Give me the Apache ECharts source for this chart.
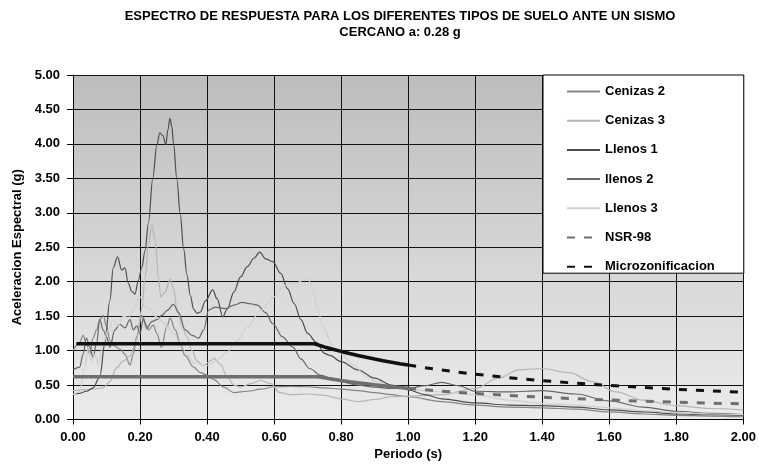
<!DOCTYPE html>
<html>
<head>
<meta charset="utf-8">
<script src="https://cdn.jsdelivr.net/npm/echarts@6/dist/echarts.min.js"></script>
<style>
html,body{margin:0;padding:0;background:#fff;}
#chart{width:759px;height:467px;}
</style>
</head>
<body>
<div id="chart"></div>
<script>
// ---- Text ----
const titleLines = ['ESPECTRO DE RESPUESTA PARA LOS DIFERENTES TIPOS DE SUELO ANTE UN SISMO', 'CERCANO a: 0.28 g'];
const xAxisTitle = 'Periodo (s)';
const yAxisTitle = 'Aceleracion Espectral (g)';
const legendNames = ['Cenizas 2', 'Cenizas 3', 'Llenos 1', 'llenos 2', 'Llenos 3', 'NSR-98', 'Microzonificacion'];

// ---- Axis ranges / ticks ----
const xMin = 0, xMax = 2, xStep = 0.2;
const yMin = 0, yMax = 5, yStep = 0.5;

// ---- Series data: [period (s), acceleration (g)] ----
const cenizas2 = [
  [0.00,1.00],[0.02,1.12],[0.03,1.22],[0.04,1.10],[0.05,0.95],[0.06,1.18],[0.07,1.30],[0.08,1.45],[0.09,1.51],
  [0.10,1.35],[0.11,1.15],[0.12,1.08],[0.14,1.02],[0.155,0.95],[0.17,0.79],[0.18,0.95],[0.19,1.20],[0.205,1.51],
  [0.215,1.40],[0.225,1.30],[0.24,1.37],[0.25,1.25],[0.264,1.05],[0.28,1.35],[0.29,1.47],[0.305,1.30],[0.32,1.10],
  [0.334,0.93],[0.36,0.76],[0.38,0.68],[0.40,0.645],[0.42,0.58],[0.45,0.47],[0.48,0.39],[0.52,0.41],[0.56,0.44],
  [0.60,0.475],[0.65,0.48],[0.70,0.475],[0.75,0.46],[0.80,0.44],[0.85,0.42],[0.90,0.39],[0.95,0.36],[1.00,0.33],
  [1.10,0.26],[1.20,0.21],[1.30,0.18],[1.40,0.17],[1.50,0.15],[1.60,0.11],[1.70,0.08],[1.80,0.06],[1.90,0.05],[2.00,0.04]
];
const cenizas3 = [
  [0.00,0.42],[0.03,0.43],[0.06,0.44],[0.09,0.46],[0.11,0.55],[0.13,0.75],[0.15,0.85],[0.17,0.92],[0.19,1.15],
  [0.205,1.60],[0.215,2.05],[0.225,2.55],[0.235,2.83],[0.245,2.60],[0.255,2.05],[0.262,1.78],[0.275,1.85],[0.29,2.04],
  [0.30,1.90],[0.31,1.62],[0.325,1.35],[0.34,1.20],[0.355,1.00],[0.37,0.85],[0.39,0.78],[0.41,0.85],[0.42,0.89],
  [0.44,0.80],[0.46,0.62],[0.48,0.50],[0.50,0.47],[0.53,0.52],[0.56,0.57],[0.59,0.52],[0.617,0.39],[0.65,0.36],
  [0.70,0.37],[0.75,0.35],[0.80,0.30],[0.85,0.26],[0.90,0.29],[0.95,0.33],[1.00,0.34],[1.10,0.36],[1.20,0.45],
  [1.27,0.60],[1.33,0.72],[1.40,0.74],[1.48,0.68],[1.55,0.55],[1.62,0.40],[1.70,0.28],[1.80,0.20],[1.90,0.16],[2.00,0.14]
];
const llenos1 = [
  [0.00,0.37],[0.02,0.38],[0.04,0.41],[0.06,0.46],[0.08,0.62],[0.095,1.10],[0.11,1.73],[0.12,2.20],[0.133,2.36],
  [0.145,2.17],[0.155,2.20],[0.165,1.98],[0.175,1.86],[0.185,1.82],[0.195,2.02],[0.205,2.20],[0.215,2.45],[0.225,2.85],
  [0.238,3.50],[0.25,3.98],[0.259,4.16],[0.268,4.12],[0.277,3.99],[0.283,4.20],[0.289,4.37],[0.295,4.25],[0.30,4.00],
  [0.31,3.48],[0.32,2.98],[0.33,2.48],[0.34,2.10],[0.35,1.80],[0.36,1.60],[0.37,1.54],[0.38,1.56],[0.395,1.72],
  [0.417,1.88],[0.43,1.75],[0.447,1.49],[0.46,1.60],[0.48,1.85],[0.50,2.07],[0.52,2.22],[0.54,2.34],[0.557,2.43],
  [0.575,2.33],[0.596,2.29],[0.62,2.12],[0.64,1.90],[0.66,1.68],[0.68,1.45],[0.70,1.25],[0.726,1.12],[0.75,0.96],
  [0.766,0.93],[0.80,0.84],[0.85,0.72],[0.90,0.60],[0.95,0.50],[1.00,0.43],[1.05,0.36],[1.10,0.30],[1.20,0.24],
  [1.30,0.21],[1.40,0.20],[1.50,0.18],[1.60,0.14],[1.70,0.11],[1.80,0.08],[1.90,0.07],[2.00,0.06]
];
const llenos2 = [
  [0.00,0.72],[0.02,0.76],[0.03,0.95],[0.04,1.18],[0.05,1.05],[0.06,0.90],[0.07,1.10],[0.08,1.45],[0.09,1.30],
  [0.10,1.20],[0.11,1.05],[0.125,1.30],[0.14,1.38],[0.155,1.33],[0.17,1.45],[0.18,1.30],[0.19,1.36],[0.20,1.25],
  [0.21,1.47],[0.22,1.32],[0.235,1.42],[0.25,1.45],[0.265,1.51],[0.28,1.58],[0.30,1.67],[0.315,1.55],[0.335,1.30],
  [0.355,1.22],[0.375,1.18],[0.39,1.30],[0.405,1.59],[0.425,1.63],[0.455,1.61],[0.48,1.66],[0.505,1.70],[0.53,1.68],
  [0.55,1.66],[0.575,1.55],[0.596,1.39],[0.625,1.20],[0.656,1.05],[0.68,0.88],[0.706,0.74],[0.74,0.64],[0.77,0.60],
  [0.80,0.55],[0.85,0.50],[0.90,0.47],[0.95,0.45],[1.00,0.45],[1.05,0.49],[1.10,0.54],[1.15,0.49],[1.20,0.41],
  [1.30,0.40],[1.40,0.42],[1.50,0.37],[1.60,0.27],[1.70,0.18],[1.80,0.12],[1.90,0.09],[2.00,0.07]
];
const llenos3 = [
  [0.00,0.36],[0.02,0.40],[0.035,0.75],[0.045,1.05],[0.055,0.85],[0.065,0.95],[0.075,0.80],[0.09,1.10],[0.105,1.30],
  [0.12,1.45],[0.135,1.35],[0.15,1.50],[0.165,1.48],[0.18,1.60],[0.20,1.78],[0.215,1.63],[0.23,1.60],[0.245,1.50],
  [0.26,1.45],[0.28,1.36],[0.30,1.25],[0.32,1.10],[0.34,0.95],[0.36,0.82],[0.40,0.78],[0.43,0.86],[0.46,0.98],
  [0.49,1.15],[0.52,1.34],[0.56,1.58],[0.60,1.78],[0.625,1.92],[0.645,1.98],[0.665,1.97],[0.685,2.02],[0.70,2.05],
  [0.716,1.88],[0.73,1.60],[0.746,1.34],[0.776,1.05],[0.80,0.95],[0.84,0.78],[0.875,0.62],[0.905,0.55],[0.95,0.47],
  [1.00,0.44],[1.05,0.42],[1.10,0.40],[1.20,0.36],[1.30,0.28],[1.40,0.23],[1.50,0.21],[1.60,0.17],[1.70,0.13],
  [1.80,0.10],[1.90,0.08],[2.00,0.07]
];
// NSR-98 design spectrum: dense points up to 1.0 s (drawn solid), sparse points after (dashed)
const nsr98Dense = [
  [0.00,0.62],[0.73,0.62],[0.75,0.604],[0.775,0.585],[0.80,0.566],[0.825,0.549],[0.85,0.533],[0.875,0.518],
  [0.90,0.503],[0.925,0.490],[0.95,0.477],[0.975,0.465],[1.00,0.453]
];
const nsr98Sparse = [
  [1.00,0.453],[1.05,0.431],[1.10,0.412],[1.15,0.394],[1.20,0.378],[1.25,0.362],[1.30,0.348],[1.35,0.336],
  [1.40,0.324],[1.45,0.312],[1.50,0.302],[1.55,0.292],[1.60,0.283],[1.65,0.275],[1.70,0.266],[1.75,0.259],
  [1.80,0.252],[1.85,0.245],[1.90,0.238],[1.95,0.232],[2.00,0.227]
];
// Microzonificacion design spectrum
const microDense = [
  [0.01,1.10],[0.72,1.10],[0.75,1.053],[0.775,1.019],[0.80,0.988],[0.825,0.958],[0.85,0.929],[0.875,0.903],
  [0.90,0.878],[0.925,0.854],[0.95,0.832],[0.975,0.810],[1.00,0.790]
];
const microSparse = [
  [1.00,0.790],[1.05,0.752],[1.10,0.718],[1.15,0.687],[1.20,0.658],[1.25,0.632],[1.30,0.608],[1.35,0.585],
  [1.40,0.564],[1.45,0.545],[1.50,0.527],[1.55,0.510],[1.60,0.494],[1.65,0.479],[1.70,0.465],[1.75,0.451],
  [1.80,0.439],[1.85,0.427],[1.90,0.416],[1.95,0.405],[2.00,0.395]
];

// ---- Chart ----
const FONT = 'Arial, "Liberation Sans", sans-serif';
const chart = echarts.init(document.getElementById('chart'), null, {renderer: 'canvas'});

function spectrum(name, data, color) {
  return {
    name: name, type: 'line', data: data, symbol: 'none', showSymbol: false,
    smooth: 0.35, smoothMonotone: 'x',
    lineStyle: {color: color, width: 1.2}, itemStyle: {color: color}
  };
}
function design(name, data, color, width, dashed) {
  return {
    name: name, type: 'line', data: data, symbol: 'none', showSymbol: false, smooth: false,
    lineStyle: {color: color, width: width, type: dashed ? [8, 9] : 'solid', cap: 'butt'},
    itemStyle: {color: color}
  };
}

const axisText = {color: '#000', fontFamily: FONT, fontSize: 13, fontWeight: 'bold'};

const option = {
  animation: false,
  backgroundColor: '#ffffff',
  title: {
    text: titleLines.join('\n'),
    left: 395, top: 3, textAlign: 'center',
    textStyle: {color: '#000', fontFamily: FONT, fontSize: 13, fontWeight: 'bold', lineHeight: 16}
  },
  legend: {
    data: legendNames,
    orient: 'vertical',
    left: 543, top: 75,
    padding: [10, 29, 0, 23],
    itemWidth: 33, itemHeight: 14, itemGap: 16.2,
    backgroundColor: '#ffffff', borderColor: '#000', borderWidth: 1,
    itemStyle: {opacity: 0},
    textStyle: {color: '#000', fontFamily: FONT, fontSize: 13, fontWeight: 'bold'}
  },
  grid: {
    left: 73, right: 15, top: 75, bottom: 47.5,
    show: true, borderWidth: 0,
    backgroundColor: {
      type: 'linear', x: 0, y: 0, x2: 0, y2: 1,
      colorStops: [{offset: 0, color: '#bdbdbd'}, {offset: 1, color: '#ebebeb'}]
    }
  },
  xAxis: {
    type: 'value', min: xMin, max: xMax, interval: xStep,
    name: xAxisTitle, nameLocation: 'middle', nameGap: 20, nameTextStyle: axisText,
    axisLine: {show: true, lineStyle: {color: '#000', width: 1}},
    axisTick: {show: true, length: 5, lineStyle: {color: '#000'}},
    axisLabel: Object.assign({margin: 11, formatter: v => v.toFixed(2)}, axisText),
    splitLine: {show: true, lineStyle: {color: '#111', width: 1}}
  },
  yAxis: {
    type: 'value', min: yMin, max: yMax, interval: yStep,
    name: yAxisTitle, nameLocation: 'middle', nameRotate: 90, nameGap: 49, nameTextStyle: axisText,
    axisLine: {show: true, lineStyle: {color: '#000', width: 1}},
    axisTick: {show: true, length: 6, lineStyle: {color: '#000'}},
    axisLabel: Object.assign({margin: 13, formatter: v => v.toFixed(2)}, axisText),
    splitLine: {show: true, lineStyle: {color: '#111', width: 1}}
  },
  series: [
    spectrum('Cenizas 2', cenizas2, '#858585'),
    spectrum('Cenizas 3', cenizas3, '#b5b5b5'),
    spectrum('Llenos 1', llenos1, '#4e4e4e'),
    spectrum('llenos 2', llenos2, '#676767'),
    spectrum('Llenos 3', llenos3, '#d0d0d0'),
    design('NSR-98', nsr98Sparse, '#6e6e6e', 3, true),
    design('NSR-98 (T<=1.0)', nsr98Dense, '#6e6e6e', 3.5, false),
    design('Microzonificacion', microSparse, '#111111', 3, true),
    design('Microzonificacion (T<=1.0)', microDense, '#111111', 3.5, false)
  ]
};
chart.setOption(option);
</script>
</body>
</html>
